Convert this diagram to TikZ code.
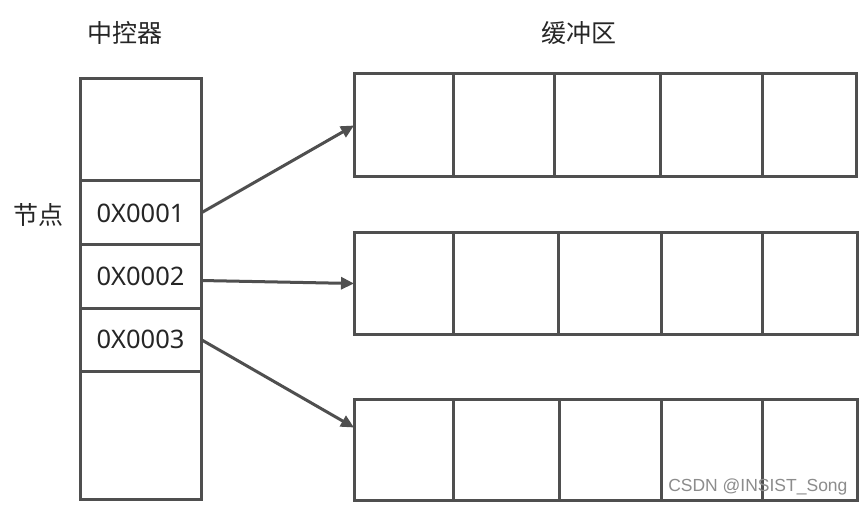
\documentclass[tikz,border=0pt]{standalone}
\usepackage{fontspec}
\setmainfont{Noto Sans}
\newfontfamily\cjk{Noto Sans CJK SC}
\newfontfamily\wmfont{Liberation Sans}
\usetikzlibrary{arrows.meta}
\definecolor{ln}{HTML}{4F4F4F}
\tikzset{
  cell/.style={draw=ln, line width=3pt, fill=white, inner sep=0pt, outer sep=0pt, anchor=center},
  title/.style={font=\cjk\fontsize{25}{30}\selectfont, text=black!85},
  link/.style={draw=ln, line width=3pt, -{Triangle[length=13pt,width=12pt]}},
}
\newcommand{\mycell}[6]{%
  \pgfmathsetmacro{\cxa}{(#2+#4)/2}\pgfmathsetmacro{\cya}{(#3+#5)/2}%
  \pgfmathsetmacro{\cw}{#4-#2}\pgfmathsetmacro{\ch}{#5-#3}%
  \node[cell, minimum width=\cw pt, minimum height=\ch pt] (#1) at (\cxa,\cya) {#6};}
\newcommand{\hx}{\fontsize{25.5}{30}\selectfont\color{black!85}}
\begin{document}
\begin{tikzpicture}[x=1pt,y=-1pt]
\path[fill=white] (0,0) rectangle (865,505);
\useasboundingbox (0,0) rectangle (865,505);
% controller column
\mycell{c0}{80}{79}{201}{181}{}
\mycell{c1}{80}{181}{201}{245}{\hx 0X0001}
\mycell{c2}{80}{245}{201}{308}{\hx 0X0002}
\mycell{c3}{80}{308}{201}{371}{\hx 0X0003}
\mycell{c4}{80}{371}{201}{499}{}
% buffer row 1
\mycell{b11}{354}{74}{453}{177}{}
\mycell{b12}{453}{74}{554}{177}{}
\mycell{b13}{554}{74}{660}{177}{}
\mycell{b14}{660}{74}{762}{177}{}
\mycell{b15}{762}{74}{856}{177}{}
% buffer row 2
\mycell{b21}{354}{233}{453}{334}{}
\mycell{b22}{453}{233}{558}{334}{}
\mycell{b23}{558}{233}{661}{334}{}
\mycell{b24}{661}{233}{762}{334}{}
\mycell{b25}{762}{233}{857}{334}{}
% buffer row 3
\mycell{b31}{354}{399}{453}{500}{}
\mycell{b32}{453}{399}{559}{500}{}
\mycell{b33}{559}{399}{661}{500}{}
\mycell{b34}{661}{399}{762}{500}{}
\mycell{b35}{762}{399}{857}{500}{}
% titles
\node[title] (tctl) at (125,33) {中控器};
\node[title] (tbuf) at (579,33) {缓冲区};
\node[title] (tnode) at (38,215) {节点};
% arrows
\coordinate (s2) at ([yshift=-4pt]c2.east);
\coordinate (e3) at ([yshift=22pt]b31.west);
\draw[link] (c1.east) -- (b11.west);
\draw[link] (s2) -- (b21.west);
\draw[link] (c3.east) -- (e3);
% watermark
\node[font=\wmfont\fontsize{17.5}{21}\selectfont, text=black!45, anchor=east] (wm) at (851,487) {CSDN @INSIST\_Song};
\end{tikzpicture}
\end{document}
